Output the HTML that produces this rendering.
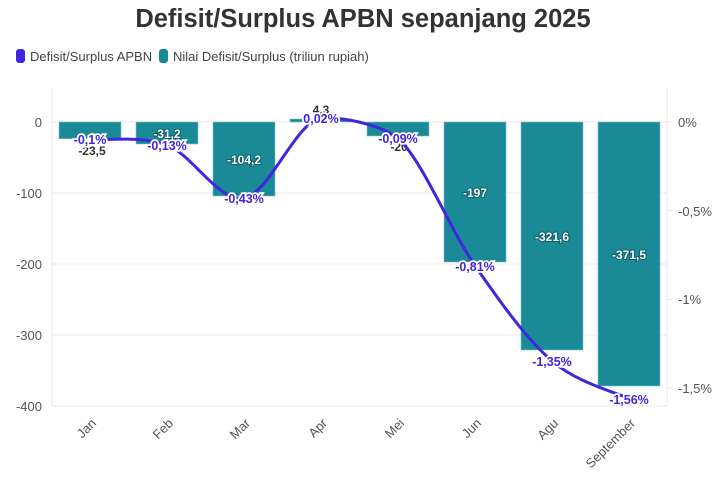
<!DOCTYPE html>
<html><head><meta charset="utf-8"><style>
body{margin:0;background:#fff;width:726px;height:483px;overflow:hidden;font-family:"Liberation Sans",sans-serif}
</style></head><body>
<svg width="726" height="483" xmlns="http://www.w3.org/2000/svg" font-family="Liberation Sans, sans-serif">
<text x="363" y="27" text-anchor="middle" font-size="25.5" font-weight="bold" fill="#333">Defisit/Surplus APBN sepanjang 2025</text>
<rect x="16" y="49" width="9" height="14" rx="3" fill="#4126e0"/>
<text x="30" y="61" font-size="13" fill="#444">Defisit/Surplus APBN</text>
<rect x="159" y="49" width="9" height="14" rx="3" fill="#168a96"/>
<text x="173" y="61" font-size="13" fill="#444">Nilai Defisit/Surplus (triliun rupiah)</text>
<g stroke="#e8e8e8" stroke-width="1">
<line x1="52" y1="122" x2="667" y2="122"/><line x1="52" y1="193" x2="667" y2="193"/>
<line x1="52" y1="264" x2="667" y2="264"/><line x1="52" y1="335" x2="667" y2="335"/>
<line x1="52" y1="88" x2="52" y2="406"/><line x1="667" y1="88" x2="667" y2="406"/>
<line x1="52" y1="406" x2="667" y2="406"/>
<line x1="667" y1="122" x2="672" y2="122"/><line x1="667" y1="210.7" x2="672" y2="210.7"/>
<line x1="667" y1="299.3" x2="672" y2="299.3"/><line x1="667" y1="388" x2="672" y2="388"/>
</g>
<g font-size="13" fill="#555" text-anchor="end">
<text x="42" y="127">0</text><text x="42" y="198">-100</text><text x="42" y="269">-200</text>
<text x="42" y="340">-300</text><text x="42" y="411">-400</text>
</g>
<g font-size="13" fill="#555">
<text x="678" y="127">0%</text><text x="678" y="216">-0,5%</text><text x="678" y="304">-1%</text><text x="678" y="393">-1,5%</text>
</g>
<g fill="#1a8a97" stroke="#7fc0c8" stroke-width="0.6">
<rect x="59" y="122" width="62" height="16.7"/>
<rect x="136" y="122" width="62" height="22"/>
<rect x="213" y="122" width="62" height="74"/>
<rect x="290" y="119" width="62" height="3"/>
<rect x="367" y="122" width="62" height="14"/>
<rect x="444" y="122" width="62" height="140"/>
<rect x="521" y="122" width="62" height="228"/>
<rect x="598" y="122" width="62" height="264"/>
</g>
<g font-size="12" font-weight="bold" text-anchor="middle" fill="#fff" stroke="#0e5f68" stroke-width="2" paint-order="stroke">
<text x="167" y="138">-31,2</text><text x="244" y="164">-104,2</text><text x="475" y="197">-197</text>
<text x="552" y="241">-321,6</text><text x="629" y="259">-371,5</text>
</g>
<g font-size="12" font-weight="bold" text-anchor="middle" fill="#333">
<text x="92" y="155">-23,5</text><text x="321" y="114">4,3</text><text x="399" y="151">-20</text>
</g>
<path d="M90,139.7 C102.8,140.6 141.3,135.3 167,145 C192.7,154.7 218.3,202.4 244,198 C269.7,193.6 296,121 321,118.5 C342,116.5 378,124 398,138 C423.7,162.5 449.3,228.4 475,265.6 C500.7,302.8 526.3,338.8 552,361 C577.7,383.2 616.2,392.3 629,398.6" fill="none" stroke="#4126e0" stroke-width="3"/>
<g font-size="12.5" font-weight="bold" text-anchor="middle" fill="#4126e0" stroke="#fff" stroke-width="3.5" paint-order="stroke">
<text x="90" y="144">-0,1%</text><text x="167" y="150">-0,13%</text><text x="244" y="203">-0,43%</text>
<text x="321" y="123">0,02%</text><text x="398" y="143">-0,09%</text><text x="475" y="271">-0,81%</text>
<text x="552" y="366">-1,35%</text><text x="629" y="404">-1,56%</text>
</g>
<g font-size="13" fill="#555" text-anchor="end">
<text transform="translate(97,424) rotate(-45)">Jan</text>
<text transform="translate(174,424) rotate(-45)">Feb</text>
<text transform="translate(251,424) rotate(-45)">Mar</text>
<text transform="translate(328,424) rotate(-45)">Apr</text>
<text transform="translate(405,424) rotate(-45)">Mei</text>
<text transform="translate(482,424) rotate(-45)">Jun</text>
<text transform="translate(559,424) rotate(-45)">Agu</text>
<text transform="translate(636,424) rotate(-45)">September</text>
</g>
</svg>
</body></html>
